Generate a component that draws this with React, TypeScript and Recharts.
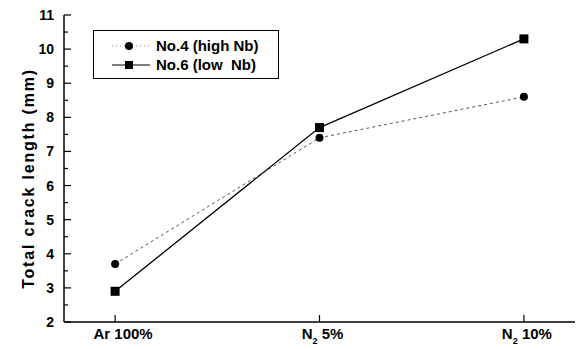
import React from 'react';
import { LineChart, Line, XAxis, YAxis, Legend } from 'recharts';

const categories = ['Ar 100%', 'N2 5%', 'N2 10%'];
const no4Values = [3.7, 7.4, 8.6];
const no6Values = [2.9, 7.7, 10.3];
const yTicks = [2, 2.5, 3, 3.5, 4, 4.5, 5, 5.5, 6, 6.5, 7, 7.5, 8, 8.5, 9, 9.5, 10, 10.5, 11];

const data = categories.map((c, i) => ({ x: i, cat: c, no4: no4Values[i], no6: no6Values[i] }));

const FONT = 'Liberation Sans, Arial, sans-serif';

const XTick = (props: any) => {
  const { x, y, payload } = props;
  const label: string = categories[payload.value] ?? '';
  const m = label.match(/^N2 (.*)$/);
  return (
    <g>
      <line x1={x} y1={y} x2={x} y2={y - 7} stroke="#000" strokeWidth={1.2} />
      <text x={x + (payload.value === 0 ? 8 : 3)} y={y + 17} textAnchor="middle" fontFamily={FONT} fontWeight="bold" fontSize={15} fill="#000">
        {m ? (
          <>
            <tspan>N</tspan>
            <tspan fontSize={9} dy={5}>2</tspan>
            <tspan dy={-5}>{' ' + m[1]}</tspan>
          </>
        ) : (
          label
        )}
      </text>
    </g>
  );
};

const YTick = (props: any) => {
  const { x, y, payload } = props;
  const v: number = payload.value;
  const major = Number.isInteger(v);
  const ax = x + 10;
  return (
    <g>
      <line x1={ax} y1={y} x2={ax + (major ? 7 : 4)} y2={y} stroke="#000" strokeWidth={1.2} />
      {major && (
        <text x={x} y={y + 5} textAnchor="end" fontFamily={FONT} fontWeight="bold" fontSize={14} fill="#000">
          {v}
        </text>
      )}
    </g>
  );
};

const YLabel = (props: any) => {
  const { viewBox } = props;
  const cy = viewBox.y + viewBox.height / 2 + 10;
  const cx = 28;
  return (
    <text
      x={cx}
      y={cy}
      transform={`rotate(-90, ${cx}, ${cy})`}
      textAnchor="middle"
      dominantBaseline="central"
      fontFamily={FONT}
      fontWeight="bold"
      fontSize={16}
      letterSpacing={1.8}
      fill="#000"
    >
      Total crack length (mm)
    </text>
  );
};

const LegendContent = () => (
  <div
    style={{
      position: 'absolute',
      left: 93,
      top: 30,
      width: 186,
      height: 49,
      border: '1.5px solid #000',
      background: '#fff',
      boxSizing: 'border-box',
    }}
  >
    <svg width={186} height={49} style={{ position: 'absolute', left: 0, top: 0 }}>
      <line x1={18} y1={15} x2={56} y2={15} stroke="#888" strokeWidth={1} strokeDasharray="1 3" />
      <circle cx={35} cy={15} r={4} fill="#000" />
      <line x1={18} y1={34} x2={56} y2={34} stroke="#000" strokeWidth={1.2} />
      <rect x={31} y={30} width={8} height={8} fill="#000" />
      <text x={62} y={20} fontFamily={FONT} fontWeight="bold" fontSize={15} fill="#000">No.4 (high Nb)</text>
      <text x={62} y={39} fontFamily={FONT} fontWeight="bold" fontSize={15} fill="#000" style={{ whiteSpace: 'pre' }}>{'No.6 (low  Nb)'}</text>
    </svg>
  </div>
);

const SquareDot = (props: any) => {
  const { cx, cy } = props;
  if (cx == null || cy == null) return null;
  return <rect x={cx - 4.5} y={cy - 4.5} width={9} height={9} fill="#000" />;
};

export default function App() {
  return (
    <div style={{ position: 'absolute', left: 0, top: 0, width: 577, height: 349, background: '#fff' }}>
      <LineChart width={577} height={349} data={data} margin={{ top: 15, right: 2, left: 0, bottom: 0 }}>
        <XAxis
          xAxisId="b"
          dataKey="x"
          type="number"
          domain={[-0.25, 2.25]}
          ticks={[0, 1, 2]}
          height={27}
          tickSize={0}
          tickMargin={0}
          tickLine={false}
          tick={<XTick />}
          axisLine={{ stroke: '#000', strokeWidth: 1.5 }}
        />
        <XAxis xAxisId="t" dataKey="x" type="number" domain={[-0.25, 2.25]} orientation="top" height={0} tick={false} tickLine={false} axisLine={{ stroke: '#000', strokeWidth: 1.5 }} />
        <YAxis
          yAxisId="l"
          type="number"
          domain={[2, 11]}
          ticks={yTicks}
          width={64}
          tickSize={0}
          tickMargin={10}
          tickLine={false}
          interval={0}
          tick={<YTick />}
          axisLine={{ stroke: '#000', strokeWidth: 1.5 }}
          label={<YLabel />}
        />
        <YAxis yAxisId="r" type="number" domain={[2, 11]} orientation="right" width={0} tick={false} tickLine={false} axisLine={{ stroke: '#000', strokeWidth: 1.5 }} />
        <Legend content={<LegendContent />} wrapperStyle={{ position: 'absolute', left: 0, top: 0, width: 0, height: 0 }} />
        <Line
          xAxisId="b"
          yAxisId="l"
          dataKey="no4"
          stroke="#555"
          strokeWidth={1}
          strokeDasharray="3 3"
          dot={{ r: 4, fill: '#000', stroke: '#000', strokeWidth: 0 }}
          isAnimationActive={false}
        />
        <Line
          xAxisId="b"
          yAxisId="l"
          dataKey="no6"
          stroke="#000"
          strokeWidth={1.3}
          dot={<SquareDot />}
          isAnimationActive={false}
        />
      </LineChart>
    </div>
  );
}
